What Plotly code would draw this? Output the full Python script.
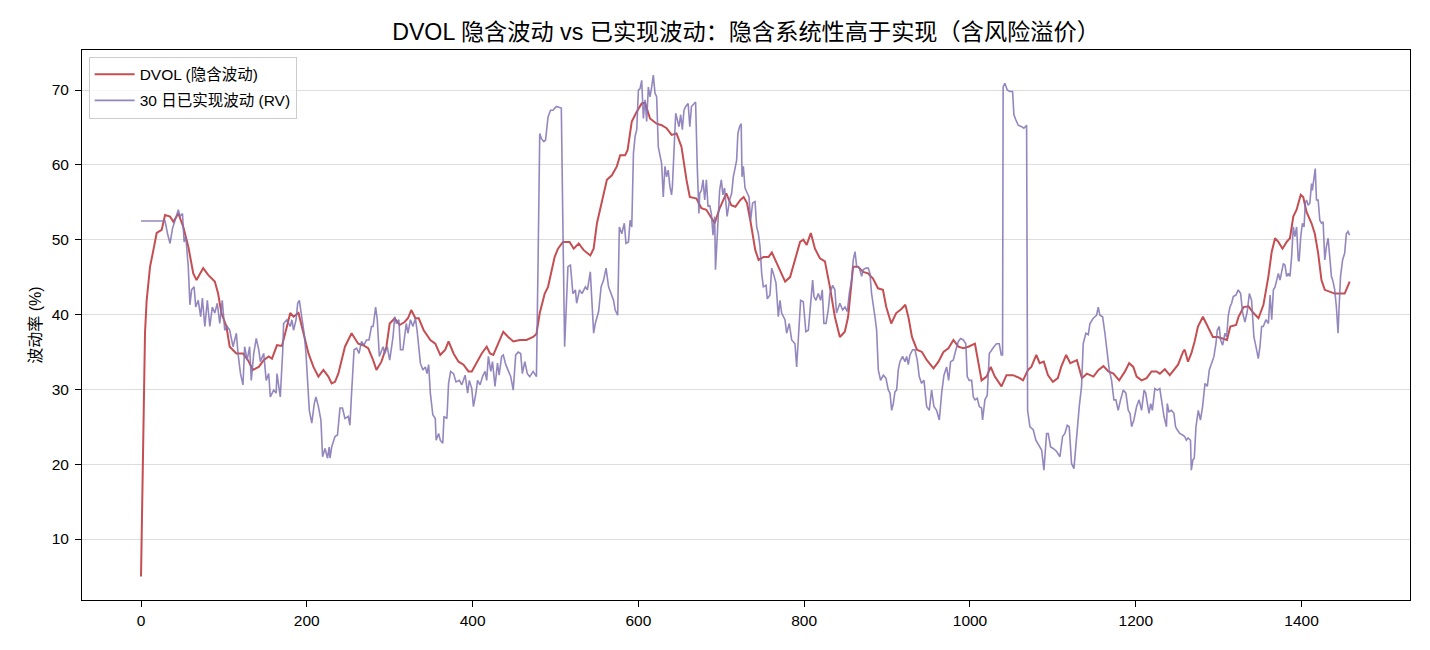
import plotly.graph_objects as go

# DVOL implied volatility (x = day index, y = %)
dvol_x = [0, 0.8, 1.6, 2.4, 2.8, 4.8, 6.8, 10.9, 14.9, 18.9, 24.9, 29, 35, 39, 45, 51, 57, 63, 67, 75, 81, 89, 93, 97,
          103, 107, 115, 123, 129, 135, 142, 148, 154, 158, 164, 170, 176, 180, 184, 190, 196, 202, 208, 214, 220, 226,
          230, 234, 238, 246, 254, 262, 268, 274, 280, 284, 290, 296, 300, 306, 312, 318, 322, 326, 331, 335, 341, 349,
          355, 361, 367, 371, 377, 383, 389, 395, 399, 405, 411, 417, 421, 425, 431, 437, 443, 449, 457, 465, 473, 477,
          481, 487, 491, 495, 499, 503, 509, 517, 522, 528, 534, 542, 546, 550, 556, 562, 568, 574, 578, 584, 587, 592,
          598, 604, 608, 614, 622, 628, 634, 640, 646, 652, 658, 662, 670, 676, 682, 688, 692, 698, 706, 712, 717, 723,
          727, 731, 735, 741, 745, 751, 757, 761, 767, 773, 777, 783, 789, 795, 799, 803, 808, 813, 819, 825, 831, 837,
          843, 849, 853, 859, 865, 871, 877, 883, 889, 895, 899, 905, 911, 917, 922, 926, 930, 936, 942, 948, 956, 962,
          968, 974, 980, 986, 992, 998, 1006, 1010, 1014, 1020, 1025, 1030, 1038, 1044, 1052, 1060, 1064, 1070, 1074,
          1080, 1084, 1089, 1094, 1100, 1106, 1110, 1116, 1121, 1129, 1135, 1141, 1149, 1155, 1161, 1167, 1173, 1180,
          1187, 1192, 1197, 1201, 1207, 1213, 1219, 1225, 1229, 1235, 1241, 1247, 1251, 1257, 1259, 1263, 1267, 1271,
          1275, 1281, 1287, 1293, 1299, 1305, 1310, 1314, 1321, 1324, 1330, 1336, 1342, 1348, 1354, 1360, 1364, 1368,
          1372, 1377, 1382, 1386, 1390, 1394, 1399, 1402, 1406, 1412, 1416, 1420, 1424, 1428, 1434, 1440, 1446, 1452,
          1458]
dvol_y = [5.0, 10.8, 19.7, 25.0, 28.6, 37.5, 41.9, 46.4, 48.6, 50.9, 51.3, 53.3, 53.1, 52.4, 53.5, 51.7, 49.1, 45.5,
          44.6, 46.2, 45.3, 44.4, 42.8, 40.2, 38.4, 35.7, 34.8, 34.8, 33.9, 32.6, 33.0, 33.9, 34.4, 34.1, 35.9, 35.8,
          38.4, 40.2, 39.7, 40.2, 37.5, 34.8, 33.0, 31.7, 32.6, 31.7, 30.8, 31.0, 32.1, 35.7, 37.5, 36.1, 35.9, 35.5,
          33.9, 32.6, 33.7, 35.7, 38.8, 39.5, 38.6, 39.0, 39.5, 40.6, 39.5, 39.5, 37.9, 36.6, 36.1, 34.6, 35.3, 36.4,
          34.8, 33.7, 33.3, 32.4, 32.4, 33.7, 34.8, 35.7, 34.8, 34.6, 36.1, 37.7, 37.0, 36.4, 36.6, 36.6, 37.0, 37.4,
          40.2, 42.8, 43.7, 45.9, 47.7, 48.8, 49.7, 49.7, 48.8, 49.5, 48.6, 47.9, 48.8, 52.2, 55.3, 58.0, 58.6, 59.8,
          61.3, 61.3, 62.0, 65.8, 67.1, 68.2, 68.3, 66.2, 65.5, 65.3, 64.9, 64.0, 64.2, 62.4, 58.0, 55.7, 55.5, 54.2,
          54.0, 52.9, 52.2, 54.2, 56.2, 54.6, 54.4, 55.3, 55.7, 54.9, 52.6, 48.6, 47.3, 47.7, 47.7, 48.3, 46.8, 45.5,
          44.4, 45.0, 47.3, 49.7, 50.0, 49.3, 50.9, 48.8, 47.5, 47.1, 43.7, 39.7, 37.0, 37.7, 39.7, 46.4, 46.4, 45.7,
          45.5, 44.8, 43.5, 43.3, 41.0, 38.8, 40.2, 40.7, 41.3, 39.5, 37.0, 35.3, 35.0, 33.9, 32.8, 33.7, 35.0, 35.5,
          36.6, 35.7, 35.5, 35.7, 36.1, 33.9, 31.2, 31.7, 33.0, 31.7, 30.4, 31.9, 31.9, 31.5, 31.2, 32.6, 33.0, 34.6,
          33.5, 33.7, 31.9, 31.0, 31.5, 33.0, 34.6, 33.5, 33.9, 31.5, 32.1, 31.7, 32.6, 33.1, 32.4, 32.1, 31.2, 32.4,
          33.5, 33.0, 31.7, 31.2, 31.5, 32.4, 32.4, 32.1, 32.7, 31.9, 32.8, 33.3, 35.0, 35.3, 33.7, 34.8, 36.4, 38.4,
          39.7, 38.4, 37.0, 37.0, 36.8, 36.6, 38.4, 38.6, 39.7, 41.0, 41.1, 40.2, 39.5, 41.3, 45.1, 48.4, 50.2, 49.7,
          48.8, 49.7, 50.2, 53.1, 54.0, 56.0, 55.7, 53.7, 52.2, 50.8, 48.2, 44.6, 43.3, 43.1, 42.8, 42.8, 42.8, 44.4]

# 30-day realized volatility
rv_x = [0, 29, 32, 35, 38, 41, 45, 47, 50, 52, 54, 57, 59, 61, 64, 66, 69, 72, 74, 77, 80, 83, 86, 89, 92, 95, 98, 101,
        104, 107, 111, 115, 117, 120, 123, 125, 128, 131, 133, 136, 139, 142, 144, 148, 151, 154, 156, 160, 163, 164,
        167, 168, 171, 172, 176, 180, 182, 184, 187, 189, 191, 194, 197, 199, 201, 203, 206, 209, 211, 214, 217, 219,
        222, 225, 227,
        228, 230, 234, 237, 240, 243, 246, 250, 252, 254, 257, 260, 263, 266, 269, 272, 275, 278, 280, 283, 285, 287.5,
        290, 292, 294, 297, 300, 304, 306, 308, 311, 313, 316, 320, 322, 325, 328, 331, 333, 337, 340, 343, 345, 347,
        349, 352, 355, 356, 359, 361, 364, 365.5, 369, 371, 373.5, 377, 380, 384, 387, 391, 394, 396, 399, 401, 404,
        406, 409, 412, 415, 417, 419, 422, 424, 427, 430, 432, 435, 437, 440, 443, 446, 449, 452, 455, 458, 460, 463,
        466, 469, 473, 477,
        479, 481, 483, 486, 488, 491, 494, 497, 501, 507, 509, 511, 513, 515, 518, 521, 524, 525.5, 529, 532, 536,
        538.5, 542, 544, 546, 548, 552, 555, 558, 561, 564, 567, 570, 572, 575, 577, 580, 583, 585, 588, 590, 592, 594,
        596, 598, 600, 602, 604, 606, 608, 610, 612, 614, 616, 618, 620, 622, 624, 626, 628, 630, 632, 634, 636, 638,
        640, 641, 643, 645, 647, 649, 651, 653, 655, 657, 660, 662, 664, 667, 669, 671, 673, 674, 676, 678, 680, 682,
        684, 686, 688, 690, 692, 693, 695, 698, 700, 702, 704, 707, 710,
        712.5, 714.5, 716.5, 718.5, 720, 722, 724, 725, 726.6, 728.6, 730.6, 733.4, 735.4, 737.8, 740.7, 742.7, 744.7,
        746.7, 748.7, 750.7, 754, 755.5, 758.7, 760.8, 762.8, 766, 768.8, 770.8, 772.8, 776.8, 778.8, 782, 784.9,
        788.9, 790.9, 793.7, 795.7, 798.9, 802, 805, 807.8, 810.2, 811.8, 814.2, 817, 819.8, 821.8, 823.8, 826.3, 829,
        831, 834.3, 837, 839, 841.2, 843, 846.4, 849.2, 852, 854.4, 857.2, 859.2, 861.3, 863.3, 866.5, 869.3, 871.3,
        874.5, 877.3, 879.3, 881.3, 883.4, 885.4, 887.4, 889.4, 892.2, 895.4, 898.6, 901.5, 903.5, 905.5, 907.5,
        909.5, 911.5, 913.5, 915.5, 918.7, 921.6, 923.6, 925.6, 927.6, 930.8, 933.6, 936.4, 938.8, 941.6, 944.5,
        947.7, 950.9, 953.7, 956.5, 959.7,
        963, 965.8, 968.6, 971.8, 974.2, 976.6, 979.8, 983, 985.9, 988.7, 992, 995, 996.7, 999, 1002, 1004, 1006,
        1008.8, 1011.2, 1014, 1015.2, 1018, 1020.8, 1023.3, 1026, 1028.9, 1032, 1035.3, 1037.7, 1039.3, 1040, 1042,
        1045, 1048, 1051.4, 1053, 1055.4, 1058.2, 1062.3, 1065, 1068.3, 1069.5, 1072.3, 1076.3, 1079.5, 1082.4,
        1086.4, 1089.2, 1092.4, 1094.4, 1097.2, 1100.4, 1104.5, 1108.5, 1111.7, 1114.5, 1117.3, 1119.7, 1122.5,
        1125.4, 1128.6, 1131.8, 1134.6, 1136.6, 1139.8, 1142.7, 1144.7, 1148.7, 1152.7, 1154.7, 1156.7, 1160, 1162.8,
        1164.8, 1168, 1170.8, 1173.6, 1176, 1178.8, 1181.6, 1184.9, 1188.1, 1190.9, 1193, 1195, 1197.7, 1201, 1204,
        1207, 1210, 1212, 1214, 1216, 1218, 1220, 1223, 1226, 1229, 1232, 1234, 1237, 1238, 1240, 1243, 1246, 1248,
        1250, 1253, 1256.5, 1259, 1261, 1263, 1266, 1267, 1269, 1270.6, 1272.6, 1275.4, 1278, 1280.6, 1283.5, 1286.3,
        1288.7, 1291.5, 1294.3, 1296.7, 1298.3, 1300.7, 1302.3, 1304.8, 1307.6, 1309.6, 1311.6, 1313.6, 1315.6,
        1317.6, 1320.8, 1323.6, 1326.5, 1328.9, 1331.7, 1334.5, 1337, 1339.7, 1342.5, 1345, 1347.8, 1349.8, 1351.8,
        1353.8, 1357, 1360, 1362, 1364, 1366, 1368, 1370, 1372, 1374, 1376, 1378, 1380, 1382, 1384, 1386, 1388, 1390,
        1392, 1394, 1396, 1397, 1399, 1401, 1403, 1404.5, 1406, 1408, 1410, 1412, 1413, 1415, 1416.5, 1418, 1420,
        1422, 1424, 1426, 1428, 1430, 1432, 1434, 1436, 1438, 1440, 1442, 1444, 1445, 1447, 1449.5, 1452, 1454, 1456,
        1458]
rv_y = [52.5, 52.5, 50.8, 49.5, 51.5, 52.6, 54.0, 53.1, 53.5, 49.7, 50.4, 46.4, 41.3, 43.3, 43.7, 41.0, 41.9, 39.7,
        42.2, 38.4, 41.9, 38.4, 41.0, 40.2, 41.5, 38.8, 41.9, 37.9, 38.4, 37.9, 35.7, 37.5, 34.8, 32.1, 30.6, 35.7,
        33.9, 35.7, 31.2, 34.8, 36.8, 35.3, 33.7, 34.8, 31.2, 32.1, 29.0, 29.9, 29.5, 32.1, 29.5, 29.0, 35.3, 38.8,
        39.3, 38.4, 39.3, 37.9, 39.3, 41.5, 41.9, 39.7, 37.3, 34.8, 31.2, 27.2, 25.5, 28.1, 29.0, 27.7, 25.9, 21.0,
        22.1, 20.8, 22.3,
        20.8, 22.3, 23.7, 23.9, 27.5, 27.5, 26.1, 26.4, 25.2, 29.5, 35.3, 35.5, 34.8, 36.4, 35.9, 36.6, 36.6, 38.4,
        38.4, 41.0, 39.3, 34.4, 35.3, 35.7, 34.8, 35.7, 33.9, 37.0, 39.7, 38.8, 39.3, 35.3, 35.3, 38.8, 37.5, 39.3,
        38.4, 39.5, 37.9, 33.5, 32.6, 33.0, 32.1, 33.3, 29.5, 26.6, 26.1, 23.2, 24.1, 23.2, 22.8, 26.4, 26.1, 30.8,
        32.4, 32.1, 31.0, 31.2, 30.6, 31.9, 29.5, 31.2, 30.1, 27.7, 29.5, 31.2, 30.6, 31.7, 32.4, 31.2, 34.4, 32.4,
        33.7, 30.4, 33.5, 31.9, 34.4, 34.6, 33.3, 32.6, 31.7, 29.9, 34.6, 35.0, 34.8, 32.1, 33.7, 32.1, 31.7, 32.4,
        31.7,
        47.3, 64.2, 63.5, 63.1, 63.3, 66.4, 67.3, 67.3, 67.8, 67.6, 51.3, 35.7, 41.0, 46.4, 46.6, 42.8, 43.3, 41.5,
        43.3, 42.8, 43.7, 43.3, 45.7, 41.5, 37.5, 38.8, 40.4, 43.7, 44.6, 46.2, 43.7, 42.8, 41.9, 40.6, 39.9, 51.7,
        50.8, 52.2, 49.5, 49.7, 52.6, 51.7, 61.5, 63.8, 64.7, 70.0, 70.2, 71.3, 66.2, 68.7, 65.8, 70.4, 69.1, 70.4,
        72.0, 69.6, 69.1, 62.4, 61.5, 60.2, 55.7, 59.8, 58.4, 59.3, 57.1, 56.0, 57.1, 62.4, 66.9, 66.0, 65.1, 66.7,
        64.7, 67.3, 67.8, 68.2, 65.1, 67.8, 68.2, 68.4, 59.8, 53.5, 56.2, 56.6, 58.0, 55.3, 58.0, 54.4, 54.6, 53.5,
        50.6, 53.1, 46.0, 50.0, 56.6, 58.0, 56.0, 56.9, 53.1, 55.3,
        56.2, 58.4, 59.3, 60.6, 64.2, 65.1, 65.5, 58.4, 59.8, 56.9, 56.4, 55.7, 52.6, 54.9, 55.1, 51.7, 50.8, 49.1,
        45.5, 43.7, 43.9, 42.1, 42.6, 46.2, 45.5, 44.2, 39.7, 41.9, 40.2, 39.3, 37.5, 38.8, 36.6, 36.1, 33.0, 39.3,
        41.9, 41.7, 37.7, 37.9, 41.5, 44.6, 42.4, 41.9, 42.8, 41.9, 43.3, 38.8, 38.8, 40.6, 42.8, 43.9, 43.3, 40.2,
        40.9, 41.5, 40.6, 41.0, 40.4, 42.8, 44.6, 47.3, 48.4, 46.4, 46.2, 45.1, 46.0, 46.2, 46.2, 45.5, 42.8, 41.5,
        39.7, 37.9, 32.6, 31.2, 31.9, 31.5, 29.9, 29.5, 27.2, 28.1, 29.7, 29.9, 32.6, 33.7, 34.4, 33.7, 34.4, 33.3,
        34.6, 35.3, 35.3, 33.9, 31.7, 30.8, 31.2, 27.7, 27.2, 29.9, 27.7, 27.2,
        25.9, 29.5, 31.9, 33.0, 31.2, 33.7, 33.9, 35.3, 36.4, 36.8, 36.6, 36.1, 31.7, 31.2, 31.2, 29.0, 28.6, 28.8,
        27.7, 27.5, 25.9, 28.6, 29.2, 34.8, 35.3, 35.7, 36.1, 36.1, 34.6, 34.6, 70.4, 70.9, 70.0, 69.8, 69.8, 66.7,
        66.0, 65.3, 65.1, 64.9, 65.3, 27.2, 25.0, 24.6, 23.2, 22.6, 21.9, 19.2, 24.1, 24.1, 22.3, 22.1, 21.7, 21.0,
        23.7, 24.1, 25.2, 25.0, 20.1, 19.4, 23.7, 27.7, 30.4, 36.1, 37.5, 37.3, 38.8, 39.5, 39.9, 41.0, 39.9, 39.7,
        37.5, 35.3, 32.6, 31.2, 28.6, 28.6, 27.2, 28.6, 29.9, 29.5, 27.2, 26.8, 25.0, 25.9, 27.7, 28.6,
        27.2, 29.9, 29.5, 28.1, 26.8, 28.1, 27.2, 30.1, 29.9, 30.1, 27.7, 26.4, 25.0, 28.1, 27.0, 27.2, 26.8, 25.0,
        24.6, 24.1, 23.9, 23.7, 23.2, 23.5, 23.2, 19.2, 20.6, 20.8, 25.0, 27.2, 25.9, 27.7, 30.8, 30.4, 32.6, 33.5,
        34.4, 36.1, 37.9, 38.4, 36.6, 35.9, 37.5, 37.0, 39.9, 41.0, 41.5, 42.4, 42.6, 43.3, 42.8, 40.2, 39.0, 40.4,
        42.8, 41.9, 37.0, 35.7, 34.1, 35.7, 38.4, 38.4, 39.3, 38.8, 42.6, 39.3, 43.3, 43.7, 44.8, 45.5, 44.6, 45.5,
        46.8, 46.6, 45.1, 45.5, 45.1, 47.7, 51.7, 50.4, 51.7, 47.3, 47.1, 50.4, 52.2, 51.7, 54.9, 55.3, 54.6, 54.9,
        57.5, 56.6, 58.8, 59.5, 55.3, 55.3, 52.6, 52.2, 52.4, 47.3, 49.1, 50.2, 47.7, 45.1, 44.4, 43.3, 41.0, 37.5,
        40.2, 45.1, 47.3, 48.2, 50.8, 51.1, 50.6]

y_ticks = [10, 20, 30, 40, 50, 60, 70]
x_ticks = [0, 200, 400, 600, 800, 1000, 1200, 1400]

TITLE = "DVOL 隐含波动 vs 已实现波动：隐含系统性高于实现（含风险溢价）"
FONT = "Liberation Sans, Arial, Noto Sans CJK SC, sans-serif"

fig = go.Figure()
fig.add_trace(go.Scatter(x=dvol_x, y=dvol_y, mode="lines", name="DVOL (隐含波动)",
                         line=dict(color="#c44e52", width=2), legendgroup="a"))
fig.add_trace(go.Scatter(x=rv_x, y=rv_y, mode="lines", name="30 日已实现波动 (RV)",
                         line=dict(color="rgba(129,114,179,0.85)", width=1.6), legendgroup="b"))

fig.update_layout(
    width=1430, height=650,
    margin=dict(l=82, r=20, t=50, b=50),
    paper_bgcolor="white", plot_bgcolor="white",
    font=dict(family=FONT, size=15.5, color="black"),
    title=dict(text=TITLE, x=0.5, xref="paper", xanchor="center", y=1 - 32 / 650, yanchor="middle",
               font=dict(size=23.2, family=FONT, color="black")),
    showlegend=True,
    legend=dict(x=0.005, y=0.988, xanchor="left", yanchor="top", bgcolor="rgba(255,255,255,0.8)",
                bordercolor="#cccccc", borderwidth=1, font=dict(size=15.5, family=FONT),
                tracegroupgap=3, itemwidth=40),
    hovermode=False,
)
fig.update_xaxes(range=[-71.2, 1530.8], tickvals=x_ticks, ticks="outside", ticklen=6, tickcolor="black",
                 showline=True, linecolor="black", linewidth=1, mirror=True, showgrid=False, zeroline=False,
                 tickfont=dict(size=15.5))
fig.update_yaxes(range=[1.85, 75.35], tickvals=y_ticks, ticks="outside", ticklen=6, tickcolor="black",
                 showline=True, linecolor="black", linewidth=1, mirror=True, showgrid=True, gridcolor="#dddddd",
                 gridwidth=1, zeroline=False, tickfont=dict(size=15.5), ticklabelstandoff=3,
                 title=dict(text="波动率 (%)", standoff=6, font=dict(size=16)))

fig.write_html("out.html")
